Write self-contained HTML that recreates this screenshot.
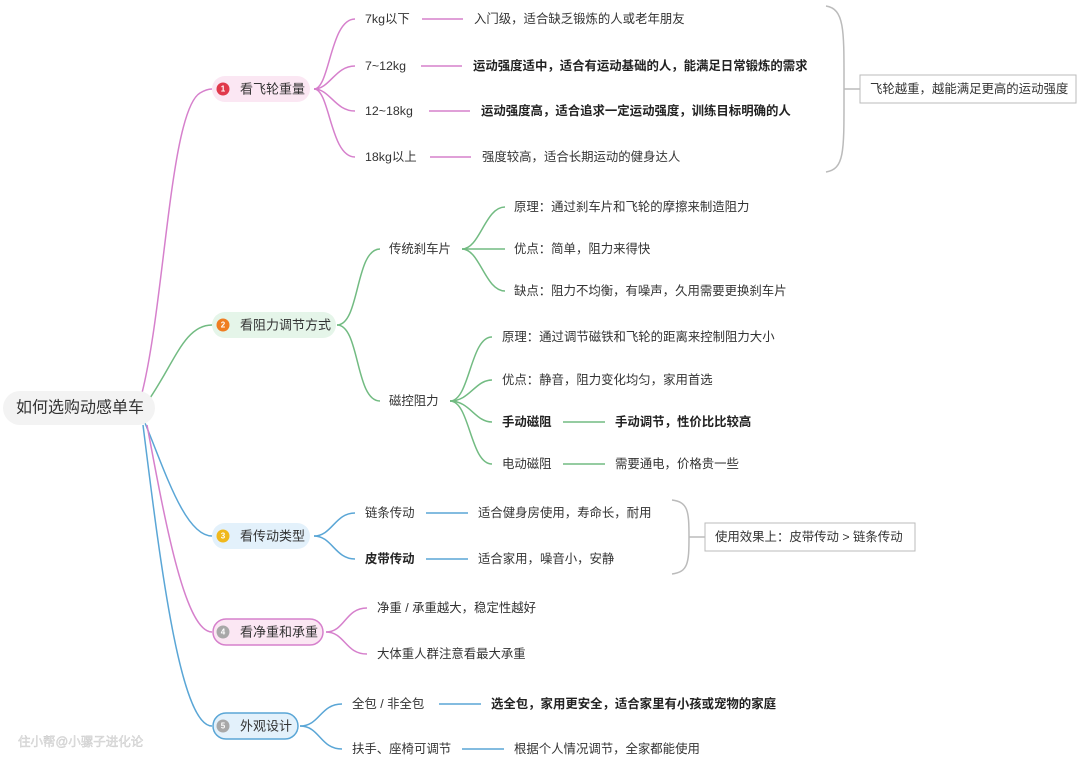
<!DOCTYPE html>
<html><head><meta charset="utf-8"><style>
html,body{margin:0;padding:0;background:#fff;}
svg{display:block;}
text{font-family:"Liberation Sans","Noto Sans CJK SC",sans-serif;font-size:12.4px;fill:#333;dominant-baseline:central;}
.b{font-weight:bold;fill:#222;}
.br{font-size:13px;}
.pk{stroke:#d680cc;fill:none;stroke-width:1.5;}
.gr{stroke:#72bb82;fill:none;stroke-width:1.5;}
.bl{stroke:#5aa6d6;fill:none;stroke-width:1.5;}
.gy{stroke:#bbb;fill:none;stroke-width:1.5;}
.num{font-size:8px;fill:#fff;text-anchor:middle;font-weight:bold;}
</style></head><body>
<svg width="1080" height="768" viewBox="0 0 1080 768" xmlns="http://www.w3.org/2000/svg">
<g transform="translate(0,1)">
<!-- root connectors -->
<path class="pk" d="M142 392 C165 300 170 110 200 92 C205 89 208 88 212 88"/>
<path class="gr" d="M150 397 C175 360 185 324 212 324"/>
<path class="bl" d="M145 422 C165 470 185 535 212 535"/>
<path class="pk" d="M147 424 C165 520 185 631 212 631"/>
<path class="bl" d="M143 424 C160 560 180 725 212 725"/>
<!-- root -->
<rect x="3" y="390" width="152" height="34" rx="17" fill="#f3f3f3"/>
<text x="16" y="407" style="font-size:16px">如何选购动感单车</text>
<text x="18" y="741" style="font-size:12.5px;fill:#e6e6e6;stroke:#c8c8c8;stroke-width:0.4">住小帮@小骡子进化论</text>

<!-- Branch 1 -->
<rect x="212" y="75" width="98" height="26" rx="13" fill="#fbe7f3"/>
<circle cx="223" cy="88" r="6.5" fill="#e0394b"/><text class="num" x="223" y="88">1</text>
<text class="br" x="240" y="88">看飞轮重量</text>
<path class="pk" d="M314 88 C330 88 330 18 355 18"/>
<path class="pk" d="M314 88 C330 88 335 65 355 65"/>
<path class="pk" d="M314 88 C330 88 335 110 355 110"/>
<path class="pk" d="M314 88 C330 88 330 156 355 156"/>
<text x="365" y="18">7kg以下</text><path class="pk" d="M422 18 H463"/><text x="474" y="18">入门级，适合缺乏锻炼的人或老年朋友</text>
<text x="365" y="65">7~12kg</text><path class="pk" d="M421 65 H462"/><text class="b" x="473" y="65">运动强度适中，适合有运动基础的人，能满足日常锻炼的需求</text>
<text x="365" y="110">12~18kg</text><path class="pk" d="M429 110 H470"/><text class="b" x="481" y="110">运动强度高，适合追求一定运动强度，训练目标明确的人</text>
<text x="365" y="156">18kg以上</text><path class="pk" d="M430 156 H471"/><text x="482" y="156">强度较高，适合长期运动的健身达人</text>
<path class="gy" d="M826 5 C845 8 844 30 844 88 C844 150 845 168 826 171 M844 88 H860"/>
<rect x="860" y="74" width="216" height="28" fill="#fff" stroke="#bbb"/>
<text x="870" y="88">飞轮越重，越能满足更高的运动强度</text>

<!-- Branch 2 -->
<rect x="212" y="311" width="124" height="26" rx="13" fill="#e5f5e9"/>
<circle cx="223" cy="324" r="6.5" fill="#ef7d22"/><text class="num" x="223" y="324">2</text>
<text class="br" x="240" y="324">看阻力调节方式</text>
<path class="gr" d="M337 324 C360 324 355 248 380 248"/>
<path class="gr" d="M337 324 C360 324 355 400 380 400"/>
<text x="389" y="248">传统刹车片</text>
<text x="389" y="400">磁控阻力</text>
<path class="gr" d="M462 248 C480 248 485 206 505 206"/>
<path class="gr" d="M462 248 H505"/>
<path class="gr" d="M462 248 C480 248 485 290 505 290"/>
<text x="514" y="206">原理：通过刹车片和飞轮的摩擦来制造阻力</text>
<text x="514" y="248">优点：简单，阻力来得快</text>
<text x="514" y="290">缺点：阻力不均衡，有噪声，久用需要更换刹车片</text>
<path class="gr" d="M450 400 C470 400 470 336 492 336"/>
<path class="gr" d="M450 400 C470 400 475 379 492 379"/>
<path class="gr" d="M450 400 C470 400 475 421 492 421"/>
<path class="gr" d="M450 400 C470 400 470 463 492 463"/>
<text x="502" y="336">原理：通过调节磁铁和飞轮的距离来控制阻力大小</text>
<text x="502" y="379">优点：静音，阻力变化均匀，家用首选</text>
<text class="b" x="502" y="421">手动磁阻</text><path class="gr" d="M563 421 H605"/><text class="b" x="615" y="421">手动调节，性价比比较高</text>
<text x="502" y="463">电动磁阻</text><path class="gr" d="M563 463 H605"/><text x="615" y="463">需要通电，价格贵一些</text>

<!-- Branch 3 -->
<rect x="212" y="522" width="98" height="26" rx="13" fill="#e3f1fb"/>
<circle cx="223" cy="535" r="6.5" fill="#f0b81c"/><text class="num" x="223" y="535">3</text>
<text class="br" x="240" y="535">看传动类型</text>
<path class="bl" d="M314 535 C332 535 335 512 355 512"/>
<path class="bl" d="M314 535 C332 535 335 558 355 558"/>
<text x="365" y="512">链条传动</text><path class="bl" d="M426 512 H468"/><text x="478" y="512">适合健身房使用，寿命长，耐用</text>
<text class="b" x="365" y="558">皮带传动</text><path class="bl" d="M426 558 H468"/><text x="478" y="558">适合家用，噪音小，安静</text>
<path class="gy" d="M672 499 C688 501 689 510 689 536 C689 562 688 571 672 573 M689 536 H705"/>
<rect x="705" y="522" width="210" height="28" fill="#fff" stroke="#bbb"/>
<text x="715" y="536">使用效果上：皮带传动 &gt; 链条传动</text>

<!-- Branch 4 -->
<rect x="213" y="618" width="110" height="26" rx="13" fill="#fbe7f3" stroke="#d680cc" stroke-width="1.5"/>
<circle cx="223" cy="631" r="6.5" fill="#a8a8a8"/><text class="num" x="223" y="631">4</text>
<text class="br" x="240" y="631">看净重和承重</text>
<path class="pk" d="M326 631 C345 631 345 607 367 607"/>
<path class="pk" d="M326 631 C345 631 345 653 367 653"/>
<text x="377" y="607">净重 / 承重越大，稳定性越好</text>
<text x="377" y="653">大体重人群注意看最大承重</text>

<!-- Branch 5 -->
<rect x="213" y="712" width="85" height="26" rx="13" fill="#e3f1fb" stroke="#5aa6d6" stroke-width="1.5"/>
<circle cx="223" cy="725" r="6.5" fill="#a8a8a8"/><text class="num" x="223" y="725">5</text>
<text class="br" x="240" y="725">外观设计</text>
<path class="bl" d="M300 725 C320 725 320 703 342 703"/>
<path class="bl" d="M300 725 C320 725 320 748 342 748"/>
<text x="352" y="703">全包 / 非全包</text><path class="bl" d="M439 703 H481"/><text class="b" x="491" y="703">选全包，家用更安全，适合家里有小孩或宠物的家庭</text>
<text x="352" y="748">扶手、座椅可调节</text><path class="bl" d="M462 748 H504"/><text x="514" y="748">根据个人情况调节，全家都能使用</text>
</g>
</svg>
</body></html>
